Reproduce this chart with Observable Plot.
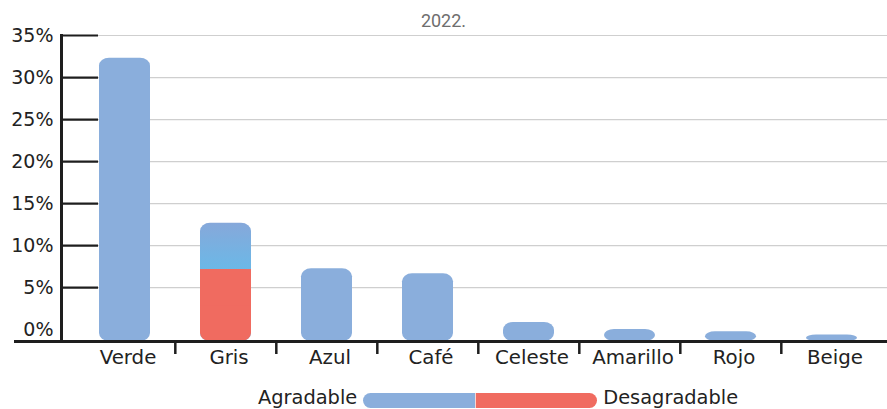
<!DOCTYPE html>
<html>
<head>
<meta charset="utf-8">
<script src="https://cdn.jsdelivr.net/npm/d3@7"></script>
<script src="https://cdn.jsdelivr.net/npm/@observablehq/plot@0.6"></script>
<style>
  html, body { margin: 0; padding: 0; background: #fff; }
  body { width: 887px; height: 409px; overflow: hidden; font-family: "DejaVu Sans", sans-serif; color: #222; }
  #title { height: 30px; box-sizing: border-box; padding-top: 12px; text-align: center;
           font-family: Roboto, sans-serif; font-size: 18px; line-height: 18px; color: #6e6e6e; }
  #chart { height: 345px; }
  #legend { height: 34px; box-sizing: border-box; padding-top: 11px; padding-left: 258px;
            display: flex; align-items: center; gap: 6px; font-size: 19.4px; line-height: 18px; color: #222; }
  #legend .sw { display: inline-block; width: 234px; height: 15px; border-radius: 8px; position: relative; top: 3px; }
</style>
</head>
<body>
<div id="title"></div>
<div id="chart"></div>
<div id="legend"></div>
<script>
// ---- data ----
const title = "2022.";
const categories = ["Verde", "Gris", "Azul", "Café", "Celeste", "Amarillo", "Rojo", "Beige"];
const agradable    = [33.7, 5.5, 8.65, 8.05, 2.26, 1.43, 1.15, 0.77];
const desagradable = [0,    8.56, 0,   0,    0,    0,    0,    0];
const yTickValues = [0, 5, 10, 15, 20, 25, 30, 35];
const seriesNames = ["Agradable", "Desagradable"];

// ---- styles ----
const seriesColors = ["#8aaedc", "#f06b60"];
const gradientColors = ["#86a8da", "#6bb8e7"];
const axisOffset = 1.4; // axis labels sit slightly above the bars' baseline in the original
const ink = "#1e1e1e";

const rows = categories.map((c, i) => ({
  cat: c, a: agradable[i], d: desagradable[i], total: agradable[i] + desagradable[i]
}));

const W = 887, H = 345, mL = 61, mT = 5, mB = 34;
const xRange = [72, 883];
const step = (xRange[1] - xRange[0]) / categories.length;
const yPos = yTickValues.map(t => t + axisOffset);
const yMax = yTickValues[yTickValues.length - 1] + axisOffset;

const svg = Plot.plot({
  width: W, height: H,
  marginLeft: mL, marginRight: 0, marginTop: mT, marginBottom: mB,
  style: { fontFamily: "DejaVu Sans, sans-serif", fontSize: "18px", color: "#222", background: "#fff", overflow: "visible" },
  x: { domain: categories, range: xRange, paddingInner: 0.5, paddingOuter: 0.25, axis: null, label: null },
  y: { domain: [0, yMax], axis: null, label: null },
  color: { type: "identity" },
  marks: [
    Plot.ruleY(yPos.slice(1), { stroke: "#cfcfcf", strokeWidth: 1.2, insetLeft: 37 }),
    Plot.ruleY(yPos.slice(1), { stroke: ink, strokeWidth: 2.2, insetRight: W - mL - 37 }),
    Plot.barY(rows, { x: "cat", y: "total", fill: d => d.d > 0 ? "url(#grisGrad)" : seriesColors[0], rx: 10, ry: 8 }),
    Plot.barY(rows.filter(d => d.d > 0), { x: "cat", y: "d", fill: () => seriesColors[1], rx: 10, ry: 8 }),
    Plot.barY(rows.filter(d => d.d > 0), { x: "cat", y1: d => d.d / 2, y2: "d", fill: () => seriesColors[1] }),
    Plot.frame({ anchor: "left", stroke: ink, strokeWidth: 3 }),
    Plot.ruleY([0], { stroke: ink, strokeWidth: 3, insetLeft: -47 }),
    Plot.ruleX(categories.slice(1), { x: d => d, dx: -step / 2, insetTop: H - mT - mB, insetBottom: -13, stroke: ink, strokeWidth: 2.5 }),
    Plot.axisY(yPos, { tickSize: 0, tickPadding: 8, label: null, tickFormat: d => `${Math.round(d - axisOffset)}%`, fontSize: 19, fill: "#222" }),
    Plot.axisX({ tickSize: 0, tickPadding: 8, label: null, dx: 3, fontSize: 19.8, fill: "#222" })
  ]
});

// gradient for the upper (agradable) part of the stacked bar
const g = rows.find(d => d.d > 0);
const frac = g ? (g.a / g.total) : 1;
const ns = "http://www.w3.org/2000/svg";
const defs = document.createElementNS(ns, "defs");
defs.innerHTML = `<linearGradient id="grisGrad" x1="0" y1="0" x2="0" y2="1">
  <stop offset="0" stop-color="${gradientColors[0]}"/>
  <stop offset="${frac}" stop-color="${gradientColors[1]}"/>
  <stop offset="1" stop-color="${gradientColors[1]}"/></linearGradient>`;
svg.prepend(defs);
document.getElementById("chart").appendChild(svg);

document.getElementById("title").textContent = title;

// legend
const legend = document.getElementById("legend");
const l1 = document.createElement("span"); l1.textContent = seriesNames[0];
const sw = document.createElement("span"); sw.className = "sw";
sw.style.background = `linear-gradient(to right, ${seriesColors[0]} 0 47.8%, #f8d6d2 47.8% 48.4%, ${seriesColors[1]} 48.4% 100%)`;
const l2 = document.createElement("span"); l2.textContent = seriesNames[1];
legend.append(l1, sw, l2);
</script>
</body>
</html>
